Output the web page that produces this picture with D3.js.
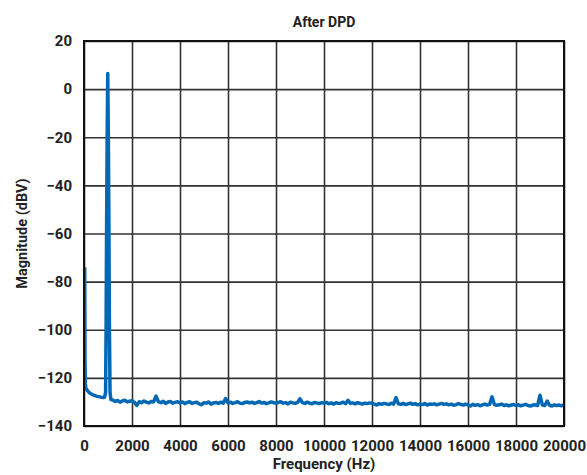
<!DOCTYPE html>
<html>
<head>
<meta charset="utf-8">
<script src="https://cdn.jsdelivr.net/npm/d3@7"></script>
<style>
  body { margin: 0; background: #fff; }
  text { font-family: Roboto, "Open Sans", sans-serif; font-weight: 700; fill: #222; }
</style>
</head>
<body>
<div id="chart"></div>
<script>
// low frequency part + the 1 kHz tone (Hz, dBV)
let lowFreq = [30, 40, 55, 80, 150, 250, 400, 550, 700, 800, 860, 900, 920, 940, 965, 990, 1015, 1040, 1060, 1085, 1120];
let lowMag = [-74, -112, -122.5, -124.3, -125.4, -126.4, -127.2, -127.7, -128.0, -128.2, -128.0, -126, -100, -60, -20, 6.5, -20, -60, -100, -126, -129.0];

// noise floor, one value per 100 Hz bin from 1200 Hz to 20000 Hz
let floorStart = 1200, floorStep = 100;
let floorMag = [
  -129.2, -129.8, -129.4, -130.1, -129.6, -129.3, -130.0, -129.7,
  -129.5, -130.2, -131.4, -129.9, -130.3, -129.6, -130.1, -130.4, -129.8, -130.0,
  -127.6, -129.9, -130.3, -129.7, -130.6, -130.0, -129.8, -130.5, -130.2, -129.9,
  -130.4, -130.0, -130.7, -130.2, -129.9, -130.6, -130.3, -130.1, -130.8, -131.2,
  -130.3, -130.5, -130.0, -130.9, -130.4, -130.2, -130.6, -130.1, -130.5, -128.6,
  -130.4, -130.1, -130.6, -130.3, -129.9, -130.5, -130.7, -130.2, -130.0, -130.4,
  -130.1, -130.6, -130.3, -129.8, -130.5, -130.2, -130.7, -130.4, -130.0, -130.3,
  -130.6, -130.2, -129.9, -130.5, -130.3, -130.8, -130.1, -130.4, -130.6, -130.2,
  -128.7, -130.3, -130.6, -130.1, -130.5, -130.8, -130.2, -130.4, -130.7, -130.3,
  -130.5, -130.2, -130.7, -130.4, -130.9, -130.3, -130.6, -130.5, -130.1, -130.7,
  -129.3, -130.6, -130.4, -130.8, -130.3, -130.6, -130.9, -130.5, -130.7, -130.4,
  -130.6, -130.9, -131.3, -130.7, -131.0, -130.6, -130.8, -131.1, -130.5, -130.9,
  -128.2, -130.8, -131.0, -130.6, -131.1, -130.8, -130.5, -131.0, -130.7, -131.2,
  -130.9, -131.1, -130.7, -131.3, -130.9, -131.0, -130.8, -131.2, -130.9, -130.6,
  -131.0, -130.8, -131.2, -130.9, -131.4, -131.1, -130.7, -131.0, -131.3, -130.9,
  -131.2, -131.7, -131.0, -131.4, -131.1, -131.6, -131.2, -130.9, -131.3, -131.0,
  -127.9, -131.1, -131.4, -131.2, -130.9, -131.5, -131.2, -131.6, -131.3, -131.1,
  -131.4, -131.2, -131.6, -131.3, -131.0, -131.5, -131.7, -131.3, -131.2, -131.5,
  -127.2, -131.3, -131.5, -129.6, -131.4, -131.7, -131.2, -131.5, -131.3, -131.6, -131.4
];

let xTicks = [0, 2000, 4000, 6000, 8000, 10000, 12000, 14000, 16000, 18000, 20000];
let yTicks = [20, 0, -20, -40, -60, -80, -100, -120, -140];

let width = 587, height = 475;
let margin = { top: 41, right: 23, bottom: 50, left: 84 };

let points = lowFreq.map((f, i) => ({ f: f, m: lowMag[i] }));
floorMag.forEach((m, i) => points.push({ f: floorStart + i * floorStep, m: m }));

let svg = d3.select("#chart").append("svg")
  .attr("width", width)
  .attr("height", height);

let x = d3.scaleLinear().domain([0, 20000]).range([margin.left, width - margin.right]);
let y = d3.scaleLinear().domain([-140, 20]).range([height - margin.bottom + 1, margin.top]);

// grid
svg.append("g")
  .attr("transform", `translate(0,${y(-140)})`)
  .call(d3.axisBottom(x).tickValues(xTicks).tickSize(-(y(-140) - y(20))).tickFormat(""))
  .call(g => g.select(".domain").remove())
  .call(g => g.selectAll("line").attr("stroke", "#333").attr("stroke-width", 1.6));

svg.append("g")
  .attr("transform", `translate(${x(0)},0)`)
  .call(d3.axisLeft(y).tickValues(yTicks).tickSize(-(x(20000) - x(0))).tickFormat(""))
  .call(g => g.select(".domain").remove())
  .call(g => g.selectAll("line").attr("stroke", "#333").attr("stroke-width", 1.6));

// data line
let line = d3.line().x(d => x(d.f)).y(d => y(d.m));
svg.append("path")
  .datum(points)
  .attr("fill", "none")
  .attr("stroke", "#0068b4")
  .attr("stroke-width", 3.5)
  .attr("stroke-linejoin", "round")
  .attr("d", line);

// frame
svg.append("rect")
  .attr("x", x(0)).attr("y", y(20))
  .attr("width", x(20000) - x(0))
  .attr("height", y(-140) - y(20))
  .attr("fill", "none")
  .attr("stroke", "#111")
  .attr("stroke-width", 2);

// tick labels
svg.append("g")
  .attr("transform", `translate(0,${y(-140)})`)
  .call(d3.axisBottom(x).tickValues(xTicks).tickSize(0).tickPadding(14).tickFormat(d3.format("d")))
  .call(g => g.select(".domain").remove())
  .call(g => g.selectAll("text").style("font-size", "15px").style("font-family", null));

svg.append("g")
  .attr("transform", `translate(${x(0)},0)`)
  .call(d3.axisLeft(y).tickValues(yTicks).tickSize(0).tickPadding(12).tickFormat(d => d < 0 ? "\u2212" + Math.abs(d) : d))
  .call(g => g.select(".domain").remove())
  .call(g => g.selectAll("text").style("font-size", "15px").style("font-family", null));

// titles
svg.append("text")
  .attr("x", (x(0) + x(20000)) / 2).attr("y", 27)
  .attr("text-anchor", "middle")
  .style("font-size", "14px")
  .text("After DPD");

svg.append("text")
  .attr("x", (x(0) + x(20000)) / 2).attr("y", 469)
  .attr("text-anchor", "middle")
  .style("font-size", "15px")
  .text("Frequency (Hz)");

svg.append("text")
  .attr("transform", `translate(27,${(y(20) + y(-140)) / 2}) rotate(-90)`)
  .attr("text-anchor", "middle")
  .style("font-size", "14.5px")
  .text("Magnitude (dBV)");
</script>
</body>
</html>
